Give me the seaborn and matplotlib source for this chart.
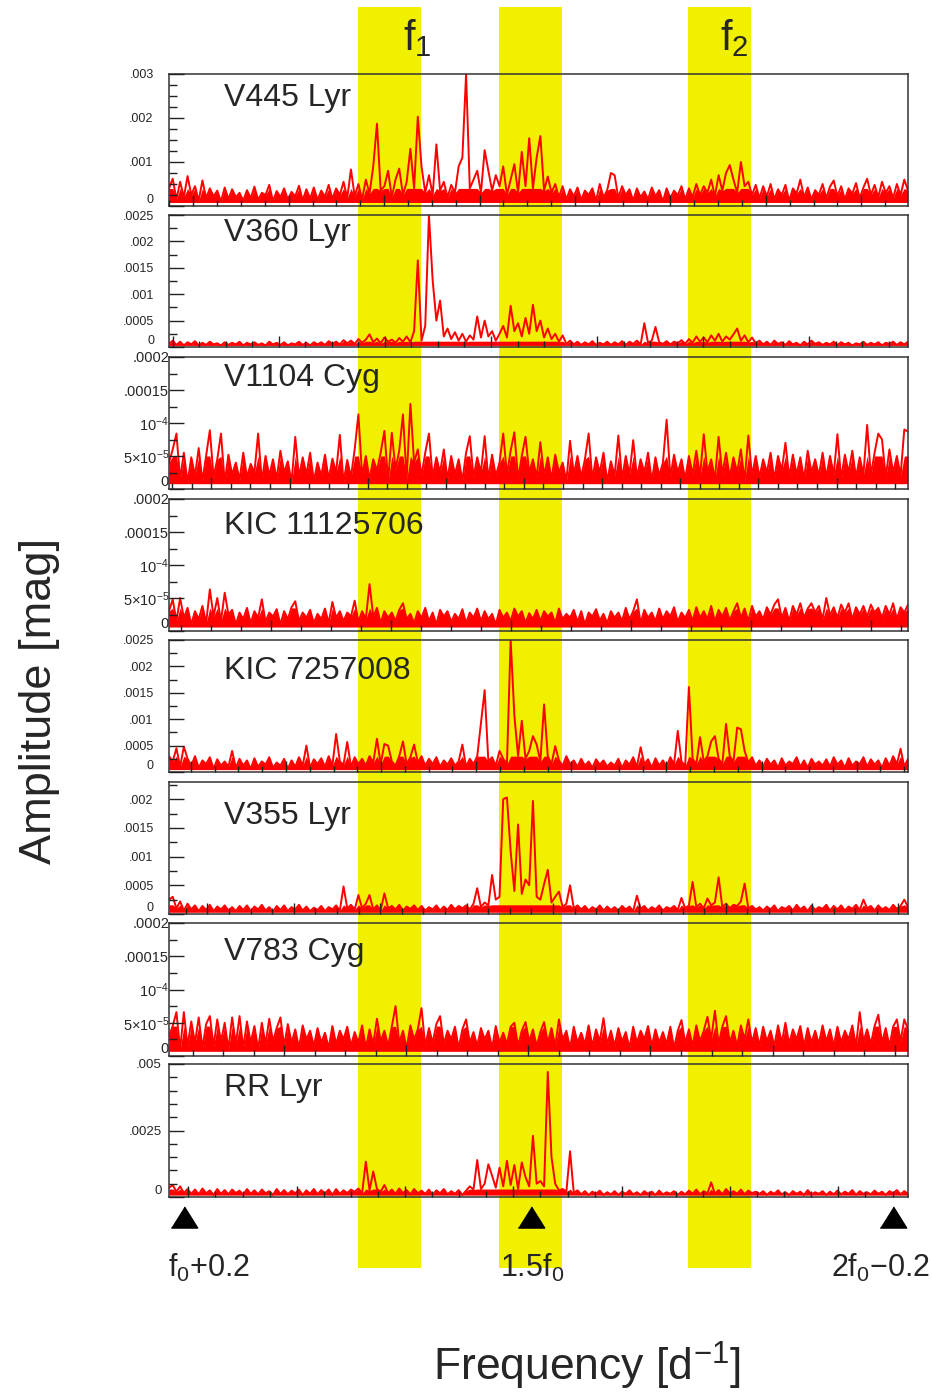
import numpy as np
import pandas as pd
import seaborn as sns
import matplotlib
matplotlib.use("Agg")
import matplotlib.pyplot as plt
from matplotlib.ticker import MultipleLocator, FixedLocator, FixedFormatter

# ---------------- data ----------------
stars = ["V445 Lyr", "V360 Lyr", "V1104 Cyg", "KIC 11125706",
         "KIC 7257008", "V355 Lyr", "V783 Cyg", "RR Lyr"]
f0 = [1.949, 1.793, 2.2915, 1.6308, 1.954, 2.111, 1.611, 1.7643]
amp_unit = [1e-5, 1e-5, 1e-6, 1e-6, 1e-5, 1e-5, 1e-6, 1e-5]
y_max = [0.003, 0.0025, 0.0002, 0.0002, 0.0025, 0.0023, 0.0002, 0.005]
# lower and upper edge of the dense noise band (mag)
noise_floor = [8e-5, 3e-5, 8e-6, 6e-6, 4.5e-5, 3e-5, 7e-6, 7e-5]
noise_top = [4e-4, 1.1e-4, 5e-5, 3.5e-5, 3e-4, 1.6e-4, 4.5e-5, 3e-4]

amp_v445 = [
    40, 62, 15, 55, 20, 68, 25, 45, 12, 58, 18, 40, 22, 35, 10, 42, 16, 38, 20, 30,
    12, 36, 18, 44, 14, 30, 25, 48, 11, 34, 20, 40, 15, 32, 22, 46, 13, 38, 17, 42,
    14, 35, 21, 48, 16, 40, 25, 55, 18, 83, 22, 50, 15, 60, 28, 90, 187, 35, 45, 80,
    20, 60, 85, 25, 55, 130, 40, 203, 90, 30, 70, 25, 140, 35, 55, 20, 48, 30, 90, 110,
    300, 40, 60, 80, 30, 127, 80, 35, 70, 45, 90, 25, 60, 95, 30, 123, 45, 154, 40, 110,
    159, 35, 67, 30, 50, 20, 45, 15, 38, 22, 42, 14, 35, 25, 40, 12, 50, 20, 36, 75,
    70, 18, 45, 25, 38, 12, 40, 20, 33, 15, 42, 22, 36, 10, 40, 18, 35, 24, 45, 15,
    40, 20, 50, 25, 45, 30, 60, 22, 70, 35, 75, 93, 60, 30, 100, 45, 55, 25, 48, 18,
    45, 22, 50, 15, 38, 25, 48, 12, 40, 28, 60, 20, 42, 15, 36, 25, 50, 18, 44, 58,
    22, 45, 15, 40, 28, 52, 18, 42, 62, 25, 48, 20, 55, 30, 45, 18, 50, 25, 60, 35]

amp_v360 = [
    6, 12, 4, 10, 3, 9, 5, 11, 3, 8, 4, 10, 5, 7, 3, 9, 4, 8, 5, 10,
    3, 8, 5, 9, 4, 7, 3, 10, 5, 8, 4, 9, 3, 7, 5, 10, 4, 8, 3, 9,
    5, 9, 4, 11, 6, 10, 5, 13, 7, 12, 6, 15, 8, 14, 24, 9, 16, 7, 18, 10,
    14, 8, 17, 10, 20, 9, 30, 164, 12, 40, 250, 126, 50, 88, 20, 35, 15, 28, 12, 25,
    10, 22, 14, 58, 18, 50, 20, 30, 12, 25, 40, 18, 78, 30, 45, 20, 55, 25, 80, 30,
    50, 18, 35, 15, 25, 10, 22, 6, 12, 5, 10, 4, 9, 5, 11, 4, 8, 5, 10, 4,
    9, 5, 11, 4, 10, 6, 12, 5, 45, 8, 12, 38, 9, 6, 11, 5, 10, 7, 13, 6,
    15, 8, 20, 10, 18, 9, 22, 12, 25, 10, 20, 14, 24, 35, 12, 22, 9, 18, 7, 12,
    5, 10, 4, 12, 6, 9, 4, 11, 5, 8, 3, 10, 5, 12, 6, 9, 4, 8, 5, 10,
    4, 9, 5, 8, 3, 7, 5, 10, 4, 8, 5, 9, 3, 8, 6, 10, 4, 9, 5, 10]

amp_v1104 = [
    40, 60, 84, 15, 55, 10, 48, 20, 62, 12, 50, 89, 18, 45, 84, 10, 52, 22, 40, 14,
    55, 18, 38, 25, 84, 12, 50, 20, 45, 15, 58, 25, 42, 10, 79, 18, 48, 22, 55, 12,
    40, 20, 52, 15, 46, 25, 82, 10, 44, 18, 60, 113, 20, 50, 15, 45, 28, 55, 88, 12,
    85, 30, 58, 113, 15, 129, 40, 60, 20, 55, 84, 18, 48, 25, 60, 15, 50, 22, 45, 12,
    55, 80, 18, 48, 25, 80, 15, 52, 20, 40, 84, 22, 58, 86, 15, 50, 79, 25, 45, 18,
    71, 20, 48, 15, 52, 25, 40, 12, 73, 22, 50, 18, 45, 84, 15, 48, 25, 55, 12, 42,
    20, 81, 15, 50, 22, 74, 18, 45, 25, 55, 12, 48, 20, 40, 105, 18, 52, 25, 45, 15,
    50, 22, 58, 20, 83, 25, 45, 15, 79, 22, 55, 18, 48, 25, 60, 12, 81, 20, 50, 18,
    45, 25, 55, 15, 50, 28, 70, 18, 52, 22, 48, 15, 58, 25, 45, 20, 55, 18, 50, 22,
    83, 15, 52, 25, 58, 18, 48, 22, 97, 20, 55, 84, 75, 18, 60, 25, 50, 20, 90, 87]

amp_kic111 = [
    30, 48, 15, 50, 20, 35, 10, 30, 18, 38, 12, 63, 22, 50, 15, 58, 25, 32, 10, 28,
    18, 35, 12, 30, 20, 48, 14, 28, 22, 33, 10, 30, 18, 36, 45, 15, 28, 20, 32, 12,
    26, 18, 34, 12, 44, 20, 30, 15, 28, 22, 46, 14, 30, 18, 71, 22, 35, 12, 30, 20,
    28, 15, 32, 42, 18, 26, 12, 30, 20, 35, 15, 28, 10, 32, 22, 30, 14, 26, 18, 33,
    12, 28, 20, 34, 15, 30, 18, 26, 10, 32, 20, 28, 15, 34, 22, 30, 12, 27, 18, 32,
    15, 30, 22, 28, 12, 34, 18, 26, 20, 32, 14, 30, 10, 28, 22, 33, 16, 26, 12, 30,
    20, 28, 15, 35, 18, 30, 48, 12, 32, 20, 28, 15, 34, 18, 30, 22, 36, 14, 28, 20,
    32, 15, 36, 20, 30, 18, 38, 14, 32, 22, 35, 16, 30, 42, 20, 34, 15, 38, 22, 30,
    18, 36, 25, 40, 48, 20, 35, 15, 38, 25, 42, 20, 34, 42, 28, 38, 18, 50, 24, 36,
    20, 40, 28, 42, 18, 36, 25, 38, 22, 40, 28, 35, 20, 38, 25, 42, 18, 36, 28, 40]

amp_kic725 = [
    30, 20, 45, 10, 48, 25, 12, 30, 8, 22, 15, 28, 6, 24, 12, 20, 10, 40, 8, 25,
    12, 22, 6, 26, 10, 20, 14, 28, 8, 18, 12, 25, 6, 22, 10, 28, 12, 50, 8, 24,
    15, 26, 10, 30, 12, 72, 20, 14, 57, 10, 28, 15, 25, 12, 30, 18, 63, 15, 53, 50,
    20, 12, 30, 58, 15, 28, 52, 18, 30, 12, 25, 15, 28, 10, 22, 14, 26, 12, 20, 52,
    10, 25, 15, 30, 92, 155, 20, 28, 12, 40, 25, 15, 250, 107, 30, 97, 25, 40, 68, 52,
    20, 128, 30, 15, 49, 22, 12, 30, 15, 22, 10, 25, 12, 20, 8, 24, 14, 22, 10, 18,
    12, 25, 8, 22, 14, 28, 10, 47, 15, 24, 8, 26, 12, 22, 10, 28, 14, 78, 20, 12,
    161, 25, 15, 66, 20, 30, 58, 68, 25, 15, 91, 30, 20, 84, 81, 40, 18, 28, 12, 22,
    10, 25, 14, 22, 8, 26, 12, 20, 15, 28, 10, 22, 8, 25, 14, 20, 12, 24, 10, 28,
    14, 22, 8, 26, 12, 20, 15, 28, 10, 24, 14, 22, 8, 26, 12, 30, 15, 44, 10, 25]

amp_v355 = [
    25, 30, 10, 22, 6, 18, 8, 15, 5, 14, 7, 16, 5, 13, 8, 15, 6, 12, 5, 14,
    7, 15, 5, 13, 8, 16, 6, 12, 4, 14, 7, 15, 5, 12, 8, 16, 6, 13, 5, 11,
    7, 14, 5, 12, 8, 15, 6, 48, 10, 16, 8, 33, 10, 18, 33, 8, 15, 6, 36, 10,
    14, 8, 16, 6, 13, 9, 15, 7, 14, 6, 12, 8, 15, 6, 13, 7, 16, 8, 14, 10,
    15, 8, 18, 45, 12, 20, 15, 68, 25, 30, 200, 203, 109, 40, 156, 35, 60, 50, 197, 30,
    25, 52, 77, 20, 30, 39, 12, 18, 50, 10, 15, 8, 14, 6, 12, 8, 15, 6, 13, 7,
    12, 6, 14, 8, 13, 5, 32, 9, 14, 6, 12, 8, 15, 6, 12, 9, 14, 7, 28, 10,
    15, 56, 12, 18, 10, 27, 15, 20, 64, 12, 18, 10, 16, 14, 22, 53, 10, 14, 8, 12,
    6, 13, 8, 15, 5, 12, 9, 14, 6, 16, 8, 13, 5, 15, 7, 12, 9, 16, 6, 14,
    8, 15, 6, 13, 9, 16, 7, 25, 10, 14, 6, 15, 8, 12, 7, 16, 9, 14, 25, 12]

amp_v783 = [
    30, 45, 66, 10, 66, 15, 52, 20, 58, 12, 48, 60, 15, 55, 22, 50, 10, 58, 18, 60,
    12, 52, 20, 45, 10, 50, 18, 56, 22, 42, 58, 15, 48, 20, 40, 12, 46, 25, 38, 15,
    42, 20, 35, 12, 45, 18, 38, 25, 44, 15, 36, 20, 46, 12, 40, 18, 56, 22, 38, 15,
    44, 75, 20, 38, 12, 46, 25, 40, 72, 15, 42, 20, 48, 60, 18, 38, 25, 44, 12, 40,
    55, 20, 36, 15, 42, 25, 38, 12, 45, 20, 35, 18, 44, 50, 15, 38, 51, 22, 40, 15,
    36, 51, 20, 42, 15, 55, 25, 38, 12, 44, 20, 35, 18, 46, 15, 40, 22, 57, 18, 38,
    15, 42, 22, 36, 12, 44, 20, 38, 25, 45, 15, 40, 20, 36, 18, 44, 12, 38, 54, 20,
    40, 15, 46, 22, 38, 59, 25, 68, 18, 44, 60, 20, 38, 15, 46, 25, 55, 20, 42, 15,
    44, 22, 38, 15, 46, 20, 50, 18, 40, 25, 45, 15, 42, 20, 38, 18, 46, 22, 40, 15,
    44, 20, 38, 25, 46, 15, 66, 22, 40, 18, 45, 62, 20, 42, 15, 44, 55, 22, 55, 40]

amp_rrlyr = [
    35, 45, 20, 40, 15, 30, 12, 28, 10, 32, 14, 25, 8, 30, 12, 26, 10, 28, 15, 24,
    8, 30, 12, 25, 10, 28, 14, 22, 8, 30, 12, 26, 10, 24, 14, 28, 8, 25, 12, 30,
    10, 26, 14, 28, 8, 30, 12, 25, 15, 28, 20, 32, 14, 133, 25, 96, 30, 20, 45, 15,
    28, 12, 32, 15, 26, 10, 30, 14, 24, 12, 28, 8, 25, 14, 30, 10, 22, 12, 26, 8,
    24, 40, 28, 139, 30, 50, 123, 80, 35, 110, 40, 136, 45, 120, 30, 130, 75, 40, 230, 50,
    60, 40, 470, 150, 50, 25, 30, 20, 172, 15, 25, 10, 22, 8, 20, 12, 24, 8, 18, 10,
    22, 8, 20, 12, 25, 10, 18, 8, 22, 12, 20, 8, 24, 10, 18, 12, 22, 8, 20, 10,
    24, 12, 28, 10, 22, 14, 55, 12, 26, 10, 30, 14, 22, 12, 28, 10, 24, 15, 20, 12,
    22, 8, 20, 12, 25, 10, 18, 8, 22, 12, 20, 8, 26, 10, 18, 12, 22, 8, 20, 10,
    24, 10, 20, 12, 26, 8, 22, 12, 18, 10, 24, 12, 20, 8, 22, 14, 26, 10, 22, 12]

amps = [amp_v445, amp_v360, amp_v1104, amp_kic111,
        amp_kic725, amp_v355, amp_v783, amp_rrlyr]

lab_small = ["0", r"5×10$^{-5}$", r"10$^{-4}$", ".00015", ".0002"]
ytick_vals = [
    [0, 0.001, 0.002, 0.003],
    [0, 0.0005, 0.001, 0.0015, 0.002, 0.0025],
    [0, 5e-5, 1e-4, 1.5e-4, 2e-4],
    [0, 5e-5, 1e-4, 1.5e-4, 2e-4],
    [0, 0.0005, 0.001, 0.0015, 0.002, 0.0025],
    [0, 0.0005, 0.001, 0.0015, 0.002],
    [0, 5e-5, 1e-4, 1.5e-4, 2e-4],
    [0, 0.0025, 0.005],
]
ytick_labels = [
    ["0", ".001", ".002", ".003"],
    ["0", ".0005", ".001", ".0015", ".002", ".0025"],
    lab_small, lab_small,
    ["0", ".0005", ".001", ".0015", ".002", ".0025"],
    ["0", ".0005", ".001", ".0015", ".002"],
    lab_small,
    ["0", ".0025", ".005"],
]
y_minor = [0.00025, 0.00025, 2.5e-5, 2.5e-5, 0.00025, 0.00025, 2.5e-5, 0.0005]

band_ranges = [(0.256, 0.341), (0.4466, 0.532), (0.702, 0.787)]
band_labels = [(0.3166, r"f$_1$"), (0.7456, r"f$_2$")]
marker_pos = [0.02, 0.49, 0.98]
marker_labels = [r"f$_0$+0.2", r"1.5f$_0$", r"2f$_0$−0.2"]

rows = []
for s, f, u, a in zip(stars, f0, amp_unit, amps):
    fr = np.linspace(f + 0.2, 2 * f - 0.2, len(a))
    for x, y in zip(fr, a):
        rows.append((s, x, y * u))
df = pd.DataFrame(rows, columns=["star", "freq", "amp"])

# ---------------- style ----------------
sns.set_theme(style="white")
plt.rcParams["font.family"] = ["Liberation Sans", "DejaVu Sans"]
plt.rcParams["mathtext.fontset"] = "custom"
plt.rcParams["mathtext.rm"] = "Liberation Sans"
plt.rcParams["mathtext.it"] = "Liberation Sans"
plt.rcParams["mathtext.bf"] = "Liberation Sans"

W, H = 932, 1395
fig = plt.figure(figsize=(W / 100, H / 100), dpi=100)
fig.patch.set_facecolor("white")

L, R = 169, 908
tops = [74, 215, 357, 499, 640, 782, 923, 1064]
bots = [206, 347, 489, 631, 772, 914, 1056, 1197]
name_y = [98, 233, 378, 526, 671, 816, 952, 1088]
label_pad = [11, 10.5, 0, 0, 11, 11, 0, 5.4]
label_size = [9, 9, 10.5, 10.5, 9, 9, 10.5, 9.5]

YEL = "#f0f000"
RED = "#ff0000"
bg = fig.add_axes([L / W, 0, (R - L) / W, 1])
bg.set_xlim(0, 1)
bg.set_ylim(H, 0)
bg.axis("off")
bg.set_zorder(0)
for a0, a1 in band_ranges:
    bg.fill_between([a0, a1], 7, 1268, color=YEL, lw=0)
for xb, bl in band_labels:
    bg.text(xb, 38, bl, fontsize=30, ha="left", va="center")
tri = [(-1, -0.8), (1, -0.8), (0, 0.8)]
bg.plot(marker_pos, [1217] * 3, ls="none", marker=tri, markersize=19,
        color="black", clip_on=False)
bg.text(-0.0015, 1268, marker_labels[0], fontsize=22, ha="left", va="center")
bg.text(0.491, 1268, marker_labels[1], fontsize=22, ha="center", va="center")
bg.text(1.03, 1268, marker_labels[2], fontsize=22, ha="right", va="center",
        clip_on=False)

for i, s in enumerate(stars):
    ax = fig.add_axes([L / W, 1 - bots[i] / H, (R - L) / W, (bots[i] - tops[i]) / H])
    ax.set_zorder(1)
    ax.set_facecolor("none")
    ax.set_axisbelow(False)
    sub = df[df["star"] == s]
    band_top = np.minimum(sub["amp"].to_numpy(), noise_top[i])
    ax.fill_between(sub["freq"], noise_floor[i], band_top,
                    where=band_top > noise_floor[i], interpolate=True,
                    color=RED, lw=0)
    sns.lineplot(data=sub, x="freq", y="amp", ax=ax, color=RED,
                 linewidth=1.4, estimator=None, sort=False)
    f = f0[i]
    ax.set_xlim(f + 0.2, 2 * f - 0.2)
    ax.set_ylim(0, y_max[i])
    ax.xaxis.set_major_locator(MultipleLocator(0.2))
    ax.xaxis.set_minor_locator(MultipleLocator(0.05))
    ax.yaxis.set_major_locator(FixedLocator(ytick_vals[i]))
    ax.yaxis.set_major_formatter(FixedFormatter(ytick_labels[i]))
    ax.yaxis.set_minor_locator(MultipleLocator(y_minor[i]))
    ax.tick_params(axis="x", which="major", direction="in", length=8, width=1,
                   bottom=True, top=False, labelbottom=False, color="#222222")
    ax.tick_params(axis="x", which="minor", direction="in", length=4.5, width=1,
                   bottom=True, top=False, color="#222222")
    ax.tick_params(axis="y", which="major", direction="in", length=11, width=1,
                   left=True, right=False, labelsize=label_size[i],
                   pad=label_pad[i], color="#222222")
    ax.tick_params(axis="y", which="minor", direction="in", length=5.5, width=1,
                   left=True, right=False, color="#222222")
    ax.set_xlabel("")
    ax.set_ylabel("")
    ticks = ax.yaxis.get_major_ticks()
    ticks[0].label1.set_verticalalignment("bottom")
    for sp in ax.spines.values():
        sp.set_color("#333333")
        sp.set_linewidth(1.1)
    fig.text(224 / W, 1 - name_y[i] / H, s, fontsize=23, ha="left", va="center",
             zorder=5)

fig.text(587 / W, 1 - 1366 / H, r"Frequency [d$^{-1}$]", fontsize=32,
         ha="center", va="center")
fig.text(40 / W, 1 - 701 / H, "Amplitude [mag]", fontsize=32.5, rotation=90,
         ha="center", va="center")

fig.savefig("out.png", dpi=100, facecolor="white")
